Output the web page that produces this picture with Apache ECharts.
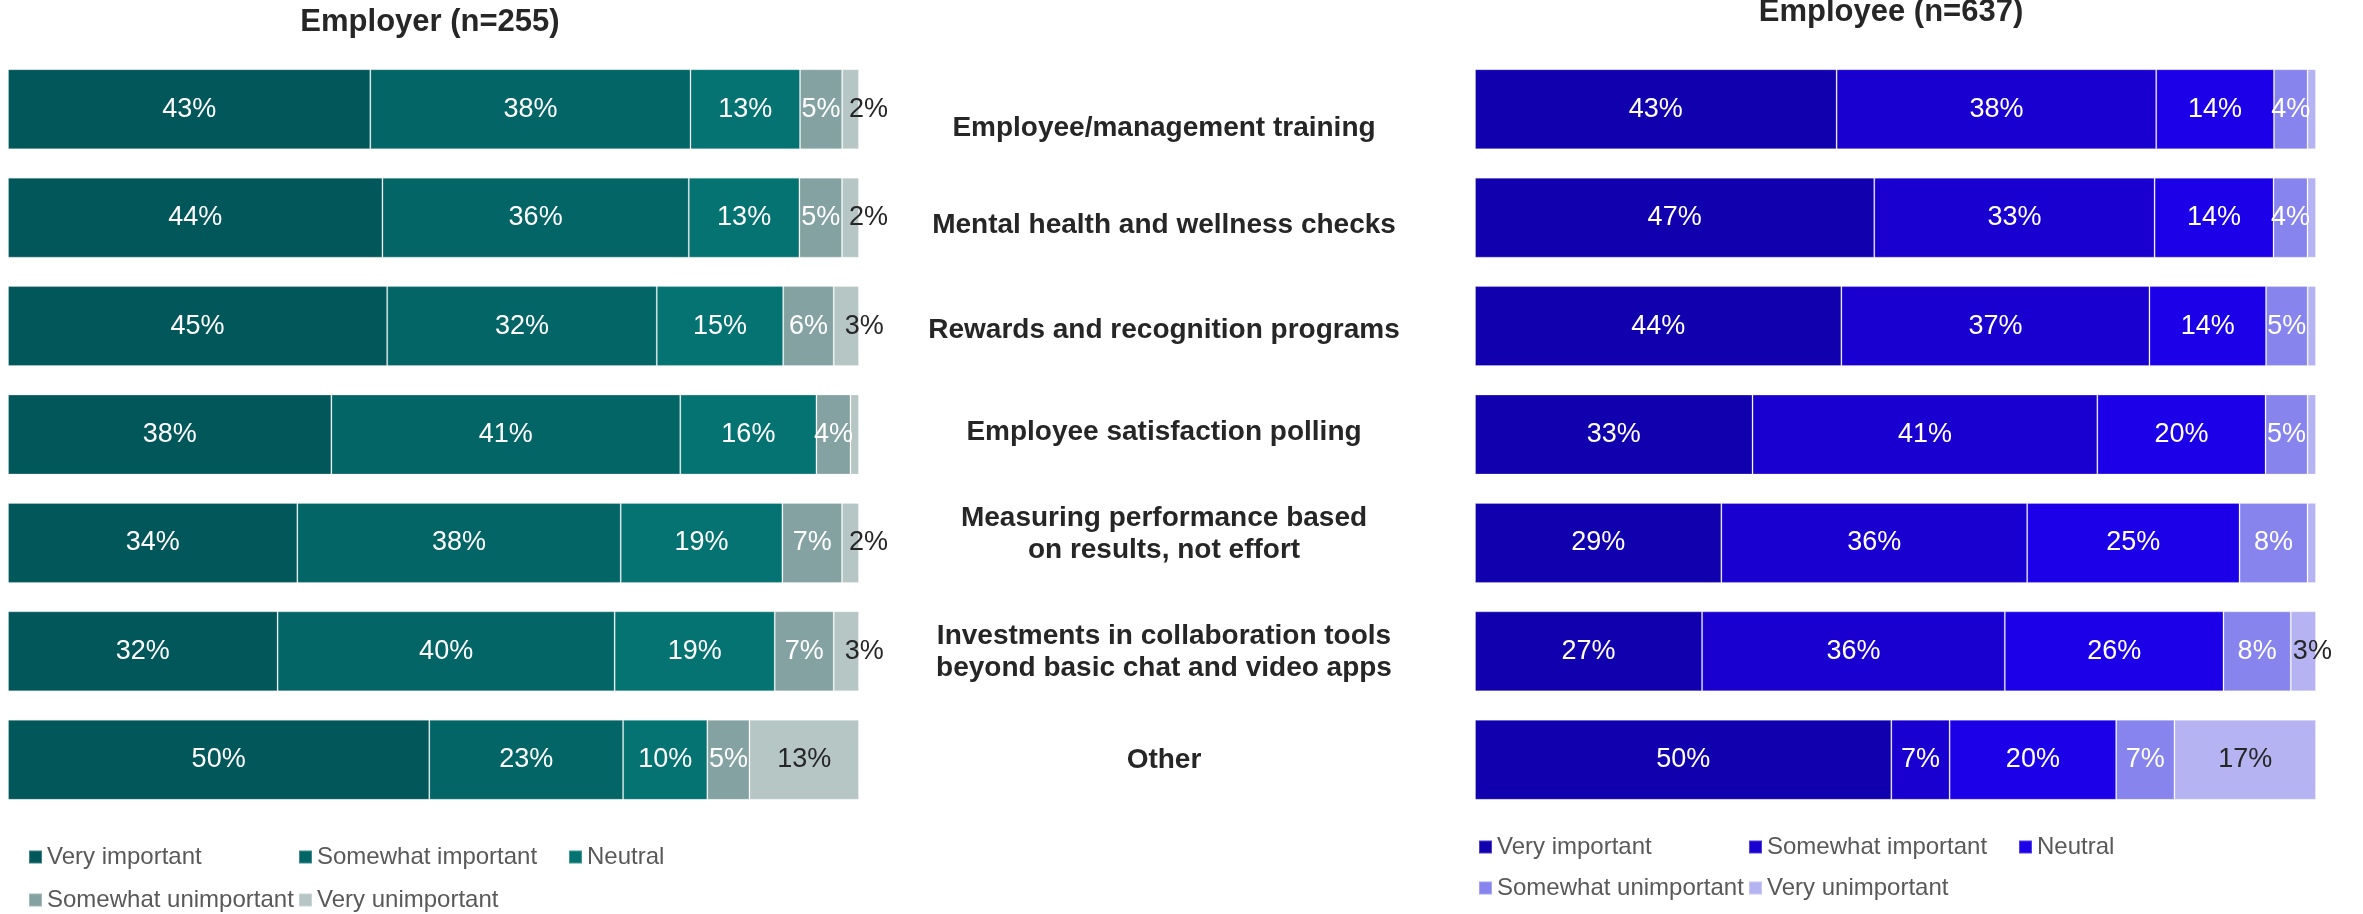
<!DOCTYPE html>
<html>
<head>
<meta charset="utf-8">
<script src="https://cdn.jsdelivr.net/npm/echarts@6/dist/echarts.min.js"></script>
<style>
html, body { margin: 0; padding: 0; background: #fff; }
#chart { width: 2363px; height: 914px; }
</style>
</head>
<body>
<div id="chart"></div>
<script>
var categories = [
    'Employee/management training',
    'Mental health and wellness checks',
    'Rewards and recognition programs',
    'Employee satisfaction polling',
    'Measuring performance based\non results, not effort',
    'Investments in collaboration tools\nbeyond basic chat and video apps',
    'Other'
];
var levels = ['Very important', 'Somewhat important', 'Neutral', 'Somewhat unimportant', 'Very unimportant'];

// Employer (n=255), % per answer, rows in category order
var employerVery = [43, 44, 45, 38, 34, 32, 50];
var employerSomewhat = [38, 36, 32, 41, 38, 40, 23];
var employerNeutral = [13, 13, 15, 16, 19, 19, 10];
var employerSomewhatUn = [5, 5, 6, 4, 7, 7, 5];
var employerVeryUn = [2, 2, 3, 1, 2, 3, 13];

// Employee (n=637)
var employeeVery = [43, 47, 44, 33, 29, 27, 50];
var employeeSomewhat = [38, 33, 37, 41, 36, 36, 7];
var employeeNeutral = [14, 14, 14, 20, 25, 26, 20];
var employeeSomewhatUn = [4, 4, 5, 5, 8, 8, 7];
var employeeVeryUn = [1, 1, 1, 1, 1, 3, 17];

var FONT = '"Liberation Sans", Arial, sans-serif';
var tealColors = ['#02575A', '#036566', '#047372', '#84A2A1', '#B5C6C5'];
var blueColors = ['#1100AE', '#1A00D0', '#1C00E8', '#8784EE', '#B5B3F2'];

// excel text boxes are not exactly centred on the bars (px down from bar centre)
var labelShift = [19, 8, 4, -2, -9, 1, 0];
var LINE_H = 32;

var chart = echarts.init(document.getElementById('chart'));

// bars are drawn as share of the row total so every row ends at 100
function buildSeries(rows, colors, idx, tailShift) {
    var totals = categories.map(function (c, i) {
        return rows.reduce(function (s, r) { return s + r[i]; }, 0);
    });
    return rows.map(function (vals, k) {
        var last = k === rows.length - 1;
        return {
            name: levels[k],
            type: 'bar',
            stack: 'total' + idx,
            xAxisIndex: idx,
            yAxisIndex: idx,
            barWidth: 80,
            itemStyle: {
                color: colors[k],
                borderColor: 'rgba(255,255,255,0.25)',
                borderWidth: 1
            },
            emphasis: { disabled: true },
            label: {
                show: true,
                position: 'inside',
                fontFamily: FONT,
                fontSize: 27,
                color: last ? '#262626' : '#fff',
                formatter: function (p) {
                    return p.data.raw >= 2 ? p.data.raw + '%' : '';
                }
            },
            data: vals.map(function (v, i) {
                var item = { value: v / totals[i] * 100, raw: v };
                if (last && v < 5) {
                    item.label = { offset: [tailShift, 0] };
                }
                return item;
            })
        };
    });
}

function buildLegends(colors, x0, rowY) {
    return levels.map(function (name, k) {
        return {
            left: x0 + 270 * (k % 3),
            top: rowY[Math.floor(k / 3)] - 14,
            padding: 0,
            icon: 'rect',
            itemWidth: 13,
            itemHeight: 13,
            selectedMode: false,
            textStyle: { fontFamily: FONT, fontSize: 24, color: '#595959', lineHeight: 28 },
            data: [{ name: name, itemStyle: { color: colors[k] } }]
        };
    });
}

// top-anchored text so that padding can move it off the bar centre
var centerLabels = categories.map(function (c, i) {
    var lines = c.split('\n').length;
    return {
        value: c,
        textStyle: {
            align: 'center',
            verticalAlign: 'top',
            padding: [labelShift[i] - lines * LINE_H / 2, 0, 0, 0]
        }
    };
});

chart.setOption({
    backgroundColor: '#fff',
    animation: false,
    title: [
        {
            text: 'Employer (n=255)',
            left: 430,
            top: 22,
            padding: 0,
            textAlign: 'center',
            textVerticalAlign: 'middle',
            textStyle: { fontFamily: FONT, fontSize: 31, fontWeight: 'bold', color: '#262626' }
        },
        {
            text: 'Employee (n=637)',
            left: 1891,
            top: 12,
            padding: 0,
            textAlign: 'center',
            textVerticalAlign: 'middle',
            textStyle: { fontFamily: FONT, fontSize: 31, fontWeight: 'bold', color: '#262626' }
        }
    ],
    legend: buildLegends(tealColors, 28, [857, 900]).concat(buildLegends(blueColors, 1478, [847, 888])),
    grid: [
        { left: 8, top: 55, width: 851, height: 759, outerBoundsMode: 'none' },
        { left: 1475, top: 55, width: 841, height: 759, outerBoundsMode: 'none' }
    ],
    xAxis: [
        { gridIndex: 0, type: 'value', min: 0, max: 100, show: false },
        { gridIndex: 1, type: 'value', min: 0, max: 100, show: false }
    ],
    yAxis: [
        { gridIndex: 0, type: 'category', inverse: true, data: categories, show: false },
        {
            gridIndex: 1,
            type: 'category',
            inverse: true,
            data: centerLabels,
            axisLine: { show: false },
            axisTick: { show: false },
            splitLine: { show: false },
            axisLabel: {
                interval: 0,
                align: 'center',
                margin: 1475 - 1164,
                fontFamily: FONT,
                fontSize: 28,
                fontWeight: 'bold',
                lineHeight: LINE_H,
                color: '#262626'
            }
        }
    ],
    series: buildSeries([employerVery, employerSomewhat, employerNeutral, employerSomewhatUn, employerVeryUn], tealColors, 0, 18)
        .concat(buildSeries([employeeVery, employeeSomewhat, employeeNeutral, employeeSomewhatUn, employeeVeryUn], blueColors, 1, 9))
});
</script>
</body>
</html>
